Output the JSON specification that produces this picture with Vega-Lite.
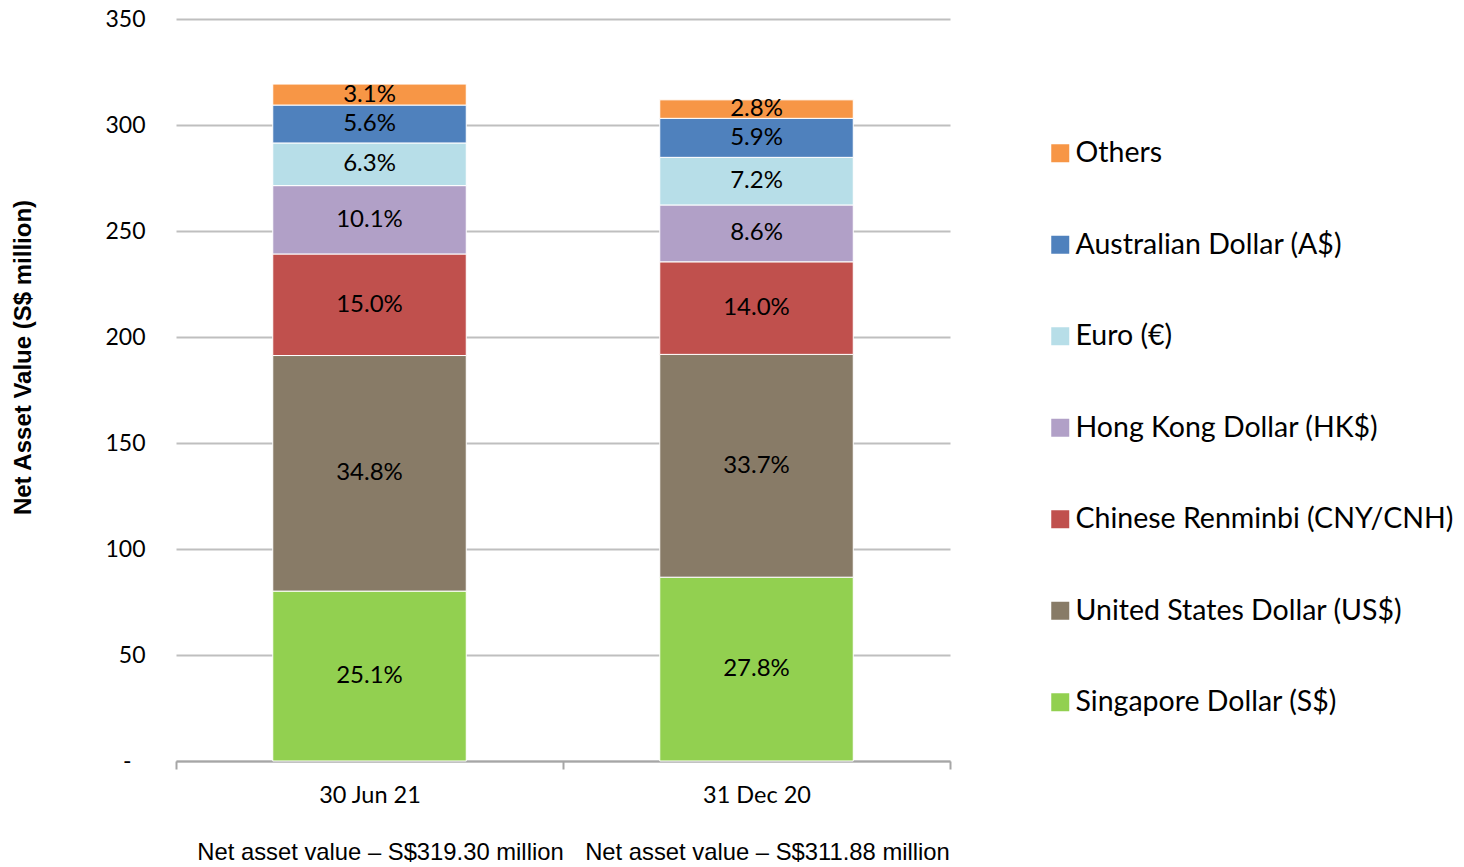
{
  "$schema": "https://vega.github.io/schema/vega-lite/v6.json",
  "width": 774,
  "height": 742,
  "autosize": {"type": "none"},
  "padding": {"left": 176, "top": 19, "right": 514, "bottom": 106},
  "config": {"view": {"stroke": null}, "font": "Lato"},
  "data": {
    "values": [
      {"date": "30 Jun 21", "currency": "Singapore Dollar (S$)", "rank": 1, "value": 80.14, "pct": "25.1%"},
      {"date": "30 Jun 21", "currency": "United States Dollar (US$)", "rank": 2, "value": 111.12, "pct": "34.8%"},
      {"date": "30 Jun 21", "currency": "Chinese Renminbi (CNY/CNH)", "rank": 3, "value": 47.90, "pct": "15.0%"},
      {"date": "30 Jun 21", "currency": "Hong Kong Dollar (HK$)", "rank": 4, "value": 32.25, "pct": "10.1%"},
      {"date": "30 Jun 21", "currency": "Euro (€)", "rank": 5, "value": 20.12, "pct": "6.3%"},
      {"date": "30 Jun 21", "currency": "Australian Dollar (A$)", "rank": 6, "value": 17.88, "pct": "5.6%"},
      {"date": "30 Jun 21", "currency": "Others", "rank": 7, "value": 9.90, "pct": "3.1%"},
      {"date": "31 Dec 20", "currency": "Singapore Dollar (S$)", "rank": 1, "value": 86.70, "pct": "27.8%"},
      {"date": "31 Dec 20", "currency": "United States Dollar (US$)", "rank": 2, "value": 105.10, "pct": "33.7%"},
      {"date": "31 Dec 20", "currency": "Chinese Renminbi (CNY/CNH)", "rank": 3, "value": 43.66, "pct": "14.0%"},
      {"date": "31 Dec 20", "currency": "Hong Kong Dollar (HK$)", "rank": 4, "value": 26.82, "pct": "8.6%"},
      {"date": "31 Dec 20", "currency": "Euro (€)", "rank": 5, "value": 22.46, "pct": "7.2%"},
      {"date": "31 Dec 20", "currency": "Australian Dollar (A$)", "rank": 6, "value": 18.40, "pct": "5.9%"},
      {"date": "31 Dec 20", "currency": "Others", "rank": 7, "value": 8.73, "pct": "2.8%"}
    ]
  },
  "transform": [
    {"stack": "value", "groupby": ["date"], "sort": [{"field": "rank", "order": "ascending"}], "as": ["v0", "v1"]},
    {"calculate": "(datum.v0 + datum.v1) / 2", "as": "vmid"}
  ],
  "encoding": {
    "x": {
      "field": "date", "type": "nominal", "sort": ["30 Jun 21", "31 Dec 20"],
      "scale": {"paddingInner": 0, "paddingOuter": 0},
      "axis": {
        "title": null, "labelAngle": 0, "tickBand": "extent", "grid": false,
        "domainColor": "#A6A6A6", "domainWidth": 2, "tickColor": "#A6A6A6", "tickWidth": 2, "tickSize": 8,
        "labelFont": "Lato", "labelFontSize": 23.5, "labelColor": "black", "labelPadding": 14
      }
    }
  },
  "layer": [
    {
      "mark": {"type": "bar", "stroke": "#ffffff", "strokeWidth": 1, "width": {"band": 0.5}},
      "encoding": {
        "y": {
          "field": "v0", "type": "quantitative", "scale": {"domain": [0, 350]},
          "axis": {
            "title": "Net Asset Value (S$ million)", "titleFont": "Liberation Sans", "titleFontSize": 24,
            "titleFontWeight": "bold", "titleColor": "black", "titleX": -153, "titleY": 338,
            "titleAngle": -90, "titleAlign": "center", "titleBaseline": "middle",
            "values": [0, 50, 100, 150, 200, 250, 300, 350],
            "labelExpr": "datum.value == 0 ? '-' : datum.label",
            "labelPadding": {"condition": {"test": "datum.value == 0", "value": 45}, "value": 31},
            "labelFont": "Lato", "labelFontSize": 23, "labelColor": "black",
            "domain": false, "ticks": false, "gridColor": "#BFBFBF", "gridWidth": 2
          }
        },
        "y2": {"field": "v1"},
        "color": {
          "field": "currency", "type": "nominal",
          "scale": {
            "domain": ["Others", "Australian Dollar (A$)", "Euro (€)", "Hong Kong Dollar (HK$)", "Chinese Renminbi (CNY/CNH)", "United States Dollar (US$)", "Singapore Dollar (S$)"],
            "range": ["#F79646", "#4F81BD", "#B7DEE8", "#B1A0C7", "#C0504D", "#887B67", "#92D050"]
          },
          "legend": {
            "orient": "none", "legendX": 870, "legendY": 120, "title": null,
            "symbolType": "square", "symbolSize": 324, "symbolStrokeWidth": 0,
            "labelFont": "Lato", "labelFontSize": 28.5, "labelColor": "black", "labelOffset": 1,
            "rowPadding": 62.5, "labelLimit": 500
          }
        }
      }
    },
    {
      "mark": {"type": "text", "font": "Lato", "fontSize": 24, "color": "black", "baseline": "middle"},
      "encoding": {
        "x": {
          "field": "date", "type": "nominal", "sort": ["30 Jun 21", "31 Dec 20"],
          "axis": {
            "orient": "bottom",
            "title": null, "labelAngle": 0, "domain": false, "ticks": false, "grid": false,
            "labelOverlap": false, "labelLimit": 600, "labelFont": "Liberation Sans", "labelFontSize": 23.8, "labelColor": "black",
            "labelPadding": 79, "labelOffset": 11,
            "labelExpr": "datum.value == '30 Jun 21' ? 'Net asset value – S$319.30 million' : 'Net asset value – S$311.88 million'"
          }
        },
        "y": {"field": "vmid", "type": "quantitative"},
        "text": {"field": "pct"}
      }
    }
  ],
  "resolve": {"axis": {"x": "independent"}}
}
